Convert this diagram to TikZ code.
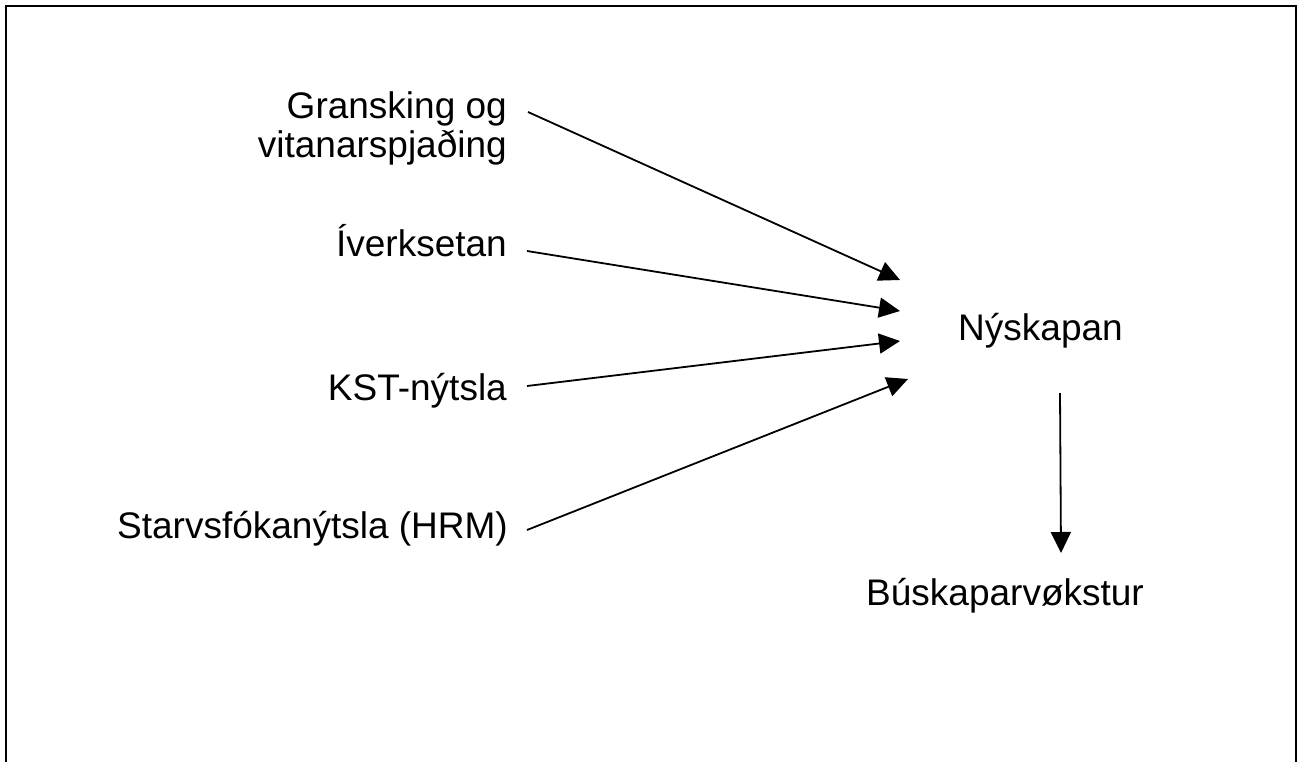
\documentclass[tikz,border=0pt]{standalone}
\usepackage{fontspec}
\setmainfont{Liberation Sans}
\usetikzlibrary{arrows.meta,calc}
\tikzset{
  lbl/.style={inner sep=0pt, font=\fontsize{37}{37}\selectfont},
  arr/.style={line width=1.8pt, -{Triangle[length=21pt,width=20pt]}},
  frame/.style={line width=2pt}
}
\begin{document}
\begin{tikzpicture}[x=1pt,y=-1pt]
\useasboundingbox (0,0) rectangle (1300,762);
\begin{scope}
\clip (0,0) rectangle (1300,762);
\draw[frame] (6,6) rectangle (1296,820);
\end{scope}
\node[lbl, anchor=base east] (g) at (507,119) {\begin{tabular}[t]{@{}r@{}}Gransking og\\vitanarspjaðing\end{tabular}};
\node[lbl, anchor=base east] (i) at (507,256) {Íverksetan};
\node[lbl, anchor=base east] (k) at (507,400) {KST-nýtsla};
\node[lbl, anchor=base east] (s) at (508,538) {Starvsfókanýtsla (HRM)};
\node[lbl, anchor=base west] (n) at (958,340) {Nýskapan};
\node[lbl, anchor=base west] (b) at (866,605) {Búskaparvøkstur};
\draw[arr] ($(g.base east)+(21,-7)$) -- ($(n.base west)+(-58,-60)$);
\draw[arr] ($(i.base east)+(20,-5)$) -- ($(n.base west)+(-58,-29)$);
\draw[arr] ($(k.base east)+(20,-14)$) -- ($(n.base west)+(-58,1)$);
\draw[arr] ($(s.base east)+(19,-8)$) -- ($(n.base west)+(-50,39)$);
\draw[arr] ($(n.base west)+(102,53)$) -- ($(b.base west)+(195,-52)$);
\end{tikzpicture}
\end{document}
